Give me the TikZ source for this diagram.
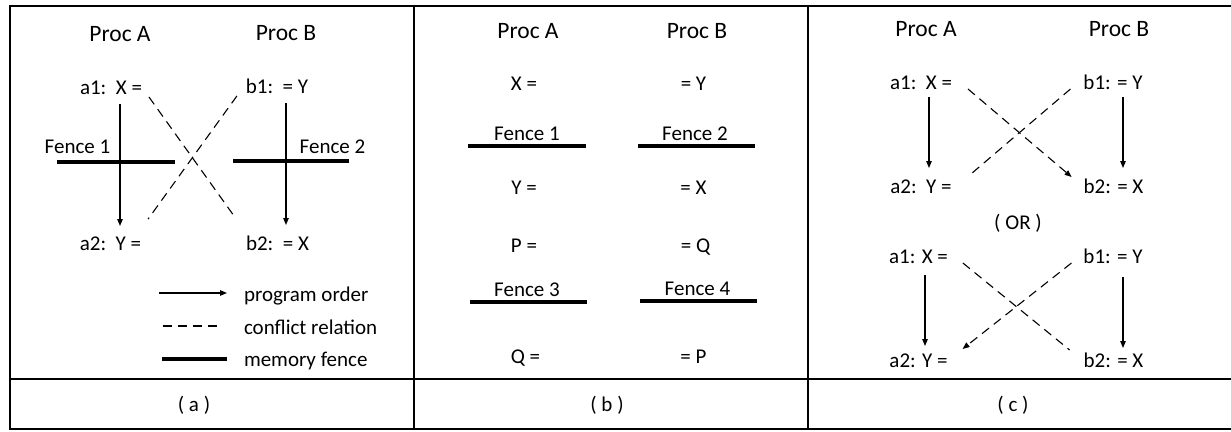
\documentclass[tikz,border=0pt]{standalone}
\usepackage{fontspec}
\setmainfont{Carlito}
\usepackage{tikz}
\usetikzlibrary{arrows.meta,calc}
\tikzset{
	lbl/.style={inner sep=0pt, outer sep=0pt, anchor=base, font=\fontsize{21}{25}\selectfont},
	proc/.style={lbl, font=\fontsize{23.5}{28}\selectfont},
	order/.style={-{Triangle[length=7pt,width=5.5pt]}, line width=1.1pt},
	conflict/.style={dash pattern=on 9pt off 6pt, line width=1.1pt},
	conflictarrow/.style={conflict, -{Triangle[length=7pt,width=5.5pt]}},
	fence/.style={line width=3.3pt},
	frame/.style={line width=1.4pt}
}

\begin{document}
\begin{tikzpicture}[x=1pt, y=-1pt]
	\useasboundingbox (0,0) rectangle (1231,431);
	\draw[frame] (10,6) rectangle (1240,429);
	\draw[frame] (10,379) -- (1240,379);
	\draw[frame] (414,6) -- (414,429);
	\draw[frame] (808,6) -- (808,429);

	\node[proc] (procA) at (120,41.5) {Proc A};
	\node[proc] (procB) at (286,40) {Proc B};
	\node[lbl] (a1) at (111,94.3) {a1:\ \ X =};
	\node[lbl] (b1) at (277,93.5) {b1:\ \ = Y};
	\node[lbl] (a2) at (110.5,250.5) {a2:\ \ Y =};
	\node[lbl] (b2) at (277.5,250) {b2:\ \ = X};
	\node[lbl] (fence1) at (77.5,153) {Fence 1};
	\node[lbl] (fence2) at (332.5,153) {Fence 2};
	\coordinate (f1w) at (57,162);
	\coordinate (f1e) at (175,162);
	\coordinate (f2w) at (233,161);
	\coordinate (f2e) at (349,161);
	\draw[fence] (f1w) -- (f1e);
	\draw[fence] (f2w) -- (f2e);
	\draw[order] ($(a1.base)+(9,9.7)$) -- ($(a2.base)+(9.5,-24.5)$);
	\draw[order] ($(b1.base)+(9,9.5)$) -- ($(b2.base)+(8.5,-25)$);
	\draw[conflict] ($(a1.base east)+(7,2.7)$) -- ($(b2.base west)+(-12,-34)$);
	\draw[conflict] ($(b1.base west)+(-9,2.5)$) -- ($(a2.base east)+(7,-31.5)$);
	\node[lbl, anchor=base west] (lorder) at (244,301) {program order};
	\node[lbl, anchor=base west] (lconflict) at (244,334) {conflict relation};
	\node[lbl, anchor=base west] (lfence) at (244,366) {memory fence};
	\draw[order] ($(lorder.base west)+(-85,-8)$) -- ($(lorder.base west)+(-17,-8)$);
	\draw[conflict] ($(lconflict.base west)+(-81,-8)$) -- ($(lconflict.base west)+(-24,-8)$);
	\draw[fence] ($(lfence.base west)+(-82,-7)$) -- ($(lfence.base west)+(-17,-7)$);
	\node[lbl] (capa) at (194,411) {( a )};

	\node[proc] (procAb) at (528,38.5) {Proc A};
	\node[proc] (procBb) at (697,38.5) {Proc B};
	\node[lbl] (wx) at (524,90.7) {X =};
	\node[lbl] (ry) at (693.5,90) {= Y};
	\node[lbl] (fence1b) at (527,140.7) {Fence 1};
	\node[lbl] (fence2b) at (695,140.7) {Fence 2};
	\node[lbl] (wy) at (524,194.7) {Y =};
	\node[lbl] (rx) at (693.5,194.7) {= X};
	\node[lbl] (wp) at (524,252.3) {P =};
	\node[lbl] (rq) at (695.5,252.3) {= Q};
	\node[lbl] (fence3b) at (527,296.7) {Fence 3};
	\node[lbl] (fence4b) at (697.5,295.3) {Fence 4};
	\node[lbl] (wq) at (525.5,363.3) {Q =};
	\node[lbl] (rp) at (693.5,363) {= P};
	\coordinate (f1bw) at (468,146);
	\coordinate (f1be) at (586,146);
	\coordinate (f2bw) at (638,146);
	\coordinate (f2be) at (755,146);
	\coordinate (f3bw) at (470,302);
	\coordinate (f3be) at (587,302);
	\coordinate (f4bw) at (640,301);
	\coordinate (f4be) at (757,301);
	\draw[fence] (f1bw) -- (f1be);
	\draw[fence] (f2bw) -- (f2be);
	\draw[fence] (f3bw) -- (f3be);
	\draw[fence] (f4bw) -- (f4be);
	\node[lbl] (capb) at (607,411) {( b )};

	\node[proc] (procAc) at (926,36) {Proc A};
	\node[proc] (procBc) at (1119,36) {Proc B};
	\node[lbl] (ca1) at (921,89.3) {a1:\ \ X =};
	\node[lbl] (cb1) at (1113,89.3) {b1: = Y};
	\node[lbl] (ca2) at (921,193.3) {a2:\ \ Y =};
	\node[lbl] (cb2) at (1113.5,193.3) {b2: = X};
	\draw[order] ($(ca1.base)+(8,7.7)$) -- ($(ca2.base)+(8,-25.3)$);
	\draw[order] ($(cb1.base)+(10,7.7)$) -- ($(cb2.base)+(9.5,-25.3)$);
	\draw[conflictarrow] ($(ca1.base east)+(16,-0.3)$) -- ($(cb2.base west)+(-12,-16.3)$);
	\draw[conflict] ($(cb1.base west)+(-13,-0.3)$) -- ($(ca2.base east)+(17,-17.3)$);
	\node[lbl] (or) at (1018,229.3) {( OR )};
	\node[lbl] (da1) at (918.5,263.3) {a1: X =};
	\node[lbl] (db1) at (1113,263.3) {b1: = Y};
	\node[lbl] (da2) at (918.5,367.3) {a2: Y =};
	\node[lbl] (db2) at (1113.5,367.3) {b2: = X};
	\draw[order] ($(da1.base)+(6.5,11.7)$) -- ($(da2.base)+(6.5,-21.3)$);
	\draw[order] ($(db1.base)+(10,13.7)$) -- ($(db2.base)+(9.5,-19.3)$);
	\draw[conflict] ($(da1.base east)+(15,-0.3)$) -- ($(db2.base west)+(-14,-17.3)$);
	\draw[conflictarrow] ($(db1.base west)+(-12,-0.3)$) -- ($(da2.base east)+(15,-18.3)$);
	\node[lbl] (capc) at (1013,411) {( c )};
\end{tikzpicture}
\end{document}
